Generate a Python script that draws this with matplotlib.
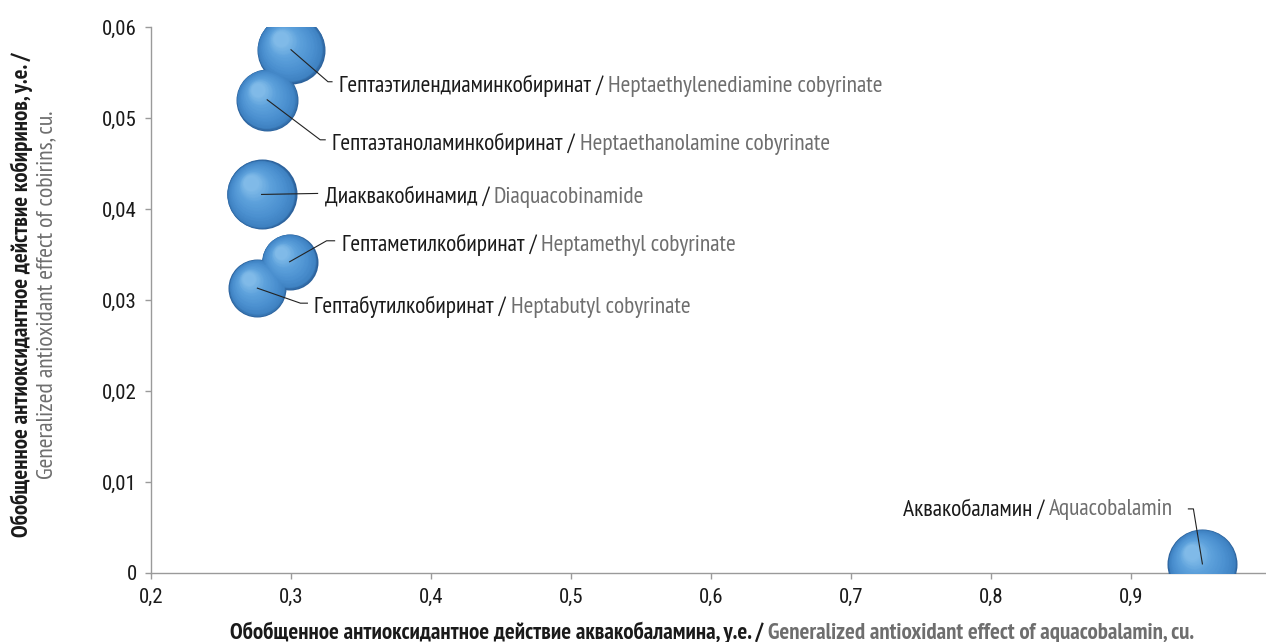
import numpy as np
import matplotlib
matplotlib.use("Agg")
import matplotlib.pyplot as plt
from matplotlib.colors import to_rgb

# compounds (russian / english), effect on aquacobalamin (x) and on cobirins (y)
names_ru = ["Гептаэтилендиаминкобиринат", "Гептаэтаноламинкобиринат", "Диаквакобинамид",
            "Гептаметилкобиринат", "Гептабутилкобиринат", "Аквакобаламин"]
names_en = ["Heptaethylenediamine cobyrinate", "Heptaethanolamine cobyrinate", "Diaquacobinamide",
            "Heptamethyl cobyrinate", "Heptabutyl cobyrinate", "Aquacobalamin"]
x_vals = [0.300, 0.283, 0.279, 0.299, 0.276, 0.951]
y_vals = [0.0575, 0.0520, 0.0416, 0.0342, 0.0313, 0.0010]
bubble = [34, 31, 35, 28, 29, 35]

x_ticks = [0.2, 0.3, 0.4, 0.5, 0.6, 0.7, 0.8, 0.9]
x_ticklabels = ["0,2", "0,3", "0,4", "0,5", "0,6", "0,7", "0,8", "0,9"]
y_ticks = [0, 0.01, 0.02, 0.03, 0.04, 0.05, 0.06]
y_ticklabels = ["0", "0,01", "0,02", "0,03", "0,04", "0,05", "0,06"]

x_title = ("Обобщенное антиоксидантное действие аквакобаламина, у.е. / ",
           "Generalized antioxidant effect of aquacobalamin, cu.")
y_title = ("Обобщенное антиоксидантное действие кобиринов, у.е. /",
           "Generalized antioxidant effect of cobirins, cu.")

# leader line layout in pixels from bubble centre: elbow dx, dy (down), hook, text side
leaders = [(37, 32, 4, 1), (53, 40, 5, 1), (56, -1, 0, 1),
           (37, -21, 8, 1), (43, 15, 7, 1), (-9, -55, -5, -1)]

plt.rcParams["font.family"] = ["Roboto Condensed", "DejaVu Sans"]
LABEL_FONT = ["PT Sans Narrow", "Roboto Condensed", "DejaVu Sans"]

DARK = "#1a1a1a"
GREY = "#6e6e6e"
AXC = "#9a9a9a"

fig = plt.figure(figsize=(12.66, 6.42), dpi=100)
renderer = fig.canvas.get_renderer()


def fit_size(text, target_px, weight="normal"):
    # font size giving the wanted text length in pixels
    t = fig.text(0, 0, text, fontsize=20, family=LABEL_FONT, fontweight=weight)
    w = t.get_window_extent(renderer).width
    t.remove()
    return 20 * target_px / w


FS = fit_size(names_ru[0] + " / " + names_en[0], 540)
FS_X = fit_size(x_title[0] + x_title[1], 964, "bold")
FS_Y = fit_size(y_title[0], 485, "bold")
FS_Y2 = fit_size(y_title[1], 370)

ax = fig.add_axes([151 / 1266, 69 / 642, 1115 / 1266, 546 / 642])
ax.set_xlim(0.2, 0.2 + 1115 / 1400)
ax.set_ylim(0, 546 / 9100)

for s in ["top", "right"]:
    ax.spines[s].set_visible(False)
for s in ["left", "bottom"]:
    ax.spines[s].set_color(AXC)
    ax.spines[s].set_linewidth(1.0)
ax.tick_params(colors=AXC, length=4, width=1, labelcolor=DARK, labelsize=15)
ax.tick_params(axis="y", pad=6)
ax.tick_params(axis="x", pad=7)
ax.set_xticks(x_ticks)
ax.set_xticklabels(x_ticklabels)
ax.set_yticks(y_ticks)
ax.set_yticklabels(y_ticklabels)

# shaded spheres: stacked discs shifted towards the upper left
stops = [to_rgb("#2c629c"), to_rgb("#3f82c2"), to_rgb("#4a8fcf"), to_rgb("#5ea2dc"), to_rgb("#80bae8")]
stop_pos = [0.0, 0.08, 0.3, 0.7, 1.0]
pt = 72 / fig.dpi
n_layers = 40
inv = ax.transData.inverted()
for xv, yv, r in zip(x_vals, y_vals, bubble):
    cx, cy = ax.transData.transform((xv, yv))
    for k in range(n_layers):
        f = k / (n_layers - 1)
        rad = r * (1 - 0.78 * f)
        sh = r * 0.30 * f
        col = [np.interp(f, stop_pos, [c[i] for c in stops]) for i in range(3)]
        px, py = inv.transform((cx - sh, cy + sh * 1.1))
        ax.scatter([px], [py], s=(2 * rad * pt) ** 2, color=col, lw=0, zorder=3 + k * 0.01)

# leader lines and two-tone labels
for i, (xv, yv) in enumerate(zip(x_vals, y_vals)):
    dx, dy, hook, side = leaders[i]
    cx, cy = ax.transData.transform((xv, yv))
    ex, ey = cx + dx, cy - dy
    hx = ex + hook
    pts = inv.transform([(cx, cy), (ex, ey), (hx, ey)])
    ax.plot(pts[:, 0], pts[:, 1], color="#222222", lw=0.8, zorder=5)
    if side > 0:
        tx, ty = inv.transform((hx + 7, ey - 4))
        t1 = ax.text(tx, ty, names_ru[i] + " / ", color=DARK, fontsize=FS, family=LABEL_FONT,
                     ha="left", va="center", zorder=6)
        ax.annotate(names_en[i], xy=(1, 0), xycoords=t1, color=GREY, fontsize=FS,
                    family=LABEL_FONT, ha="left", va="bottom", zorder=6)
    else:
        tx, ty = inv.transform((hx - 15, ey - 1))
        t1 = ax.text(tx, ty, names_en[i], color=GREY, fontsize=FS, family=LABEL_FONT,
                     ha="right", va="center", zorder=6)
        ax.annotate(names_ru[i] + " / ", xy=(0, 0), xycoords=t1, color=DARK, fontsize=FS,
                    family=LABEL_FONT, ha="right", va="bottom", zorder=6)

# axis titles, two colours each
xl_ru = fig.text(0, 3 / 642, x_title[0], color=DARK, fontsize=FS_X, family=LABEL_FONT,
                 fontweight="bold", ha="left", va="baseline")
xl_en = fig.text(0, 3 / 642, x_title[1], color=GREY, fontsize=FS_X, family=LABEL_FONT,
                 fontweight="bold", ha="left", va="baseline")
w_ru = xl_ru.get_window_extent(renderer).width
w_en = xl_en.get_window_extent(renderer).width
left = 712 - (w_ru + w_en) / 2
xl_ru.set_x(left / 1266)
xl_en.set_x((left + w_ru) / 1266)

fig.text(22 / 1266, 347 / 642, y_title[0], color=DARK, fontsize=FS_Y, family=LABEL_FONT,
         fontweight="bold", rotation=90, ha="center", va="center")
fig.text(47 / 1266, 347 / 642, y_title[1], color=GREY, fontsize=FS_Y2, family=LABEL_FONT,
         rotation=90, ha="center", va="center")

fig.savefig("out.png", dpi=100)
